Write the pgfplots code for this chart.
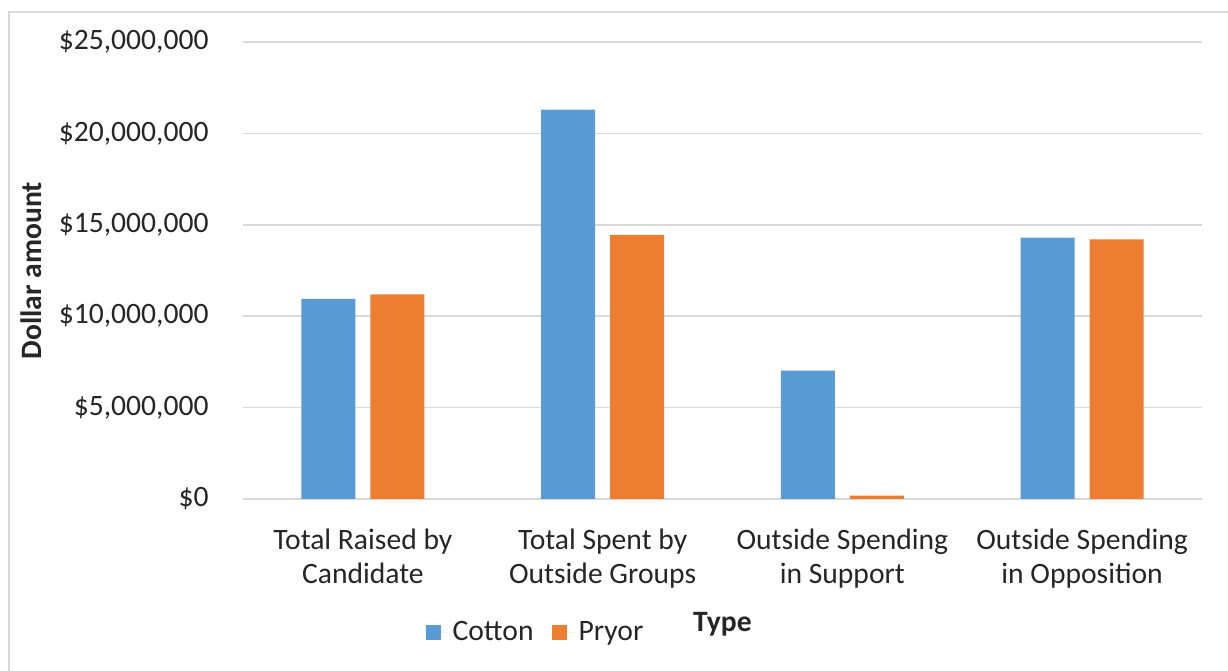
\documentclass[border=0pt]{standalone}
\usepackage{fontspec}
\setmainfont{Carlito}
\usepackage{pgfplots}
\pgfplotsset{compat=1.18}
\definecolor{cblue}{HTML}{5B9BD5}
\definecolor{corange}{HTML}{ED7D31}
\definecolor{gridgray}{HTML}{D9D9D9}
\definecolor{txt}{HTML}{262626}
\begin{document}
\begin{tikzpicture}
\path[use as bounding box] (0,0) rectangle (614bp,335.5bp);
\draw[gridgray, line width=1bp] (4.25bp,0) -- (4.25bp,329.5bp) -- (614bp,329.5bp);
\begin{axis}[
  at={(121.5bp,86bp)}, anchor=south west,
  scale only axis,
  width=479.5bp, height=228.5bp,
  ybar=7.5bp, bar width=27bp,
  xmin=-0.5, xmax=3.5,
  ymin=0, ymax=25000000,
  enlarge x limits=false,
  xtick={0,1,2,3},
  xticklabels={Total Raised by\\Candidate, Total Spent by\\Outside Groups, Outside Spending\\in Support, Outside Spending\\in Opposition},
  ytick={0,5000000,10000000,15000000,20000000,25000000},
  scaled y ticks=false,
  yticklabel={\$\pgfmathprintnumber[fixed,precision=0,1000 sep={,}]{\tick}},
  /pgf/number format/assume math mode=true,
  major tick length=0pt,
  axis line style={draw=none},
  ymajorgrids,
  major grid style={gridgray, line width=0.8bp},
  every tick label/.append style={font=\fontsize{14.8bp}{17bp}\selectfont, text=txt},
  yticklabel style={anchor=east, inner sep=0pt, xshift=-17bp},
  xticklabel style={align=center, anchor=base, inner sep=0pt, yshift=-42bp},
  xlabel={Type},
  xlabel style={at={(axis description cs:0.5,-0.291)}, anchor=base, font=\bfseries\fontsize{14.8bp}{17bp}\selectfont, text=txt},
  ylabel={Dollar amount},
  ylabel style={at={(axis description cs:-0.221,0.5)}, anchor=center, rotate=0, font=\bfseries\fontsize{14.8bp}{17bp}\selectfont, text=txt},
  legend style={at={(axis description cs:0.306,-0.292)}, anchor=center, draw=none, fill=none,
    legend columns=2, font=\fontsize{14.8bp}{17bp}\selectfont, text=txt,
    /tikz/every even column/.append style={column sep=7bp}},
  legend image code/.code={\fill[#1] (0bp,-3.75bp) rectangle (7.5bp,3.75bp); \path (0bp,0bp) -- (11.5bp,0bp);},
]
\addplot[fill=cblue, draw=none] coordinates {(0,10950000) (1,21300000) (2,7020000) (3,14300000)};
\addplot[fill=corange, draw=none] coordinates {(0,11200000) (1,14450000) (2,180000) (3,14200000)};
\legend{Cotton, Pryor}
\end{axis}
\end{tikzpicture}
\end{document}
